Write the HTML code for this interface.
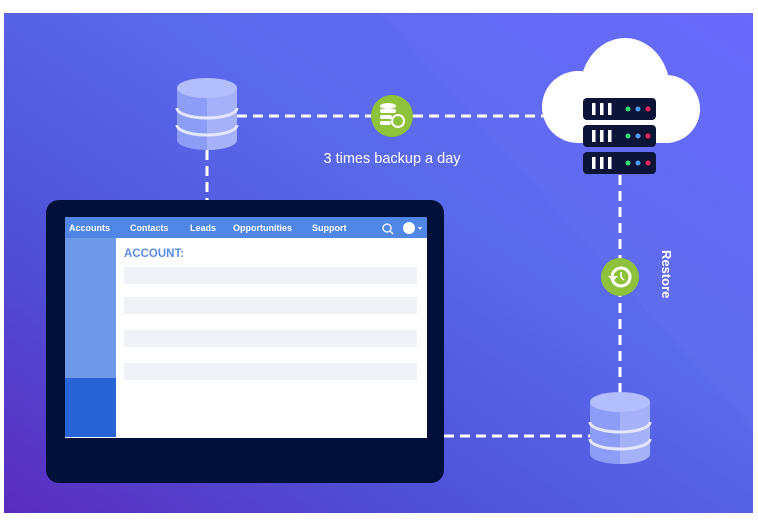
<!DOCTYPE html>
<html><head><meta charset="utf-8"><style>
html,body{margin:0;padding:0;background:#fff;width:758px;height:523px;overflow:hidden}
svg{display:block}
text{font-family:"Liberation Sans",sans-serif}
</style></head><body>
<svg width="758" height="523" viewBox="0 0 758 523" xmlns="http://www.w3.org/2000/svg">
<defs>
<linearGradient id="bg" x1="0" y1="1" x2="1" y2="0">
<stop offset="0" stop-color="#5a2cc0"/>
<stop offset="0.3" stop-color="#4f52d8"/>
<stop offset="0.6" stop-color="#5a6aec"/>
<stop offset="1" stop-color="#6667fc"/>
</linearGradient>
<g id="db">
<path d="M0 10 v52 a30 10 0 0 0 60 0 v-52 z" fill="#8d9cf6"/>
<path d="M30 20 v52 a30 10 0 0 0 30 -10 v-52 z" fill="#a5b2fa"/>
<ellipse cx="30" cy="10" rx="30" ry="10" fill="#b3beff"/>
<path d="M0 30 a30 10 0 0 0 60 0" fill="none" stroke="#e3e8ff" stroke-width="3"/>
<path d="M0 47 a30 10 0 0 0 60 0" fill="none" stroke="#e3e8ff" stroke-width="3"/>
</g>
<g id="srv">
<rect x="0" y="0" width="73" height="22" rx="4" fill="#0c1538"/>
<rect x="9" y="5" width="3.5" height="12" fill="#fff"/>
<rect x="17" y="5" width="3.5" height="12" fill="#fff"/>
<rect x="25" y="5" width="3.5" height="12" fill="#fff"/>
<circle cx="45" cy="11" r="2.5" fill="#2ee07a"/>
<circle cx="55" cy="11" r="2.5" fill="#4c9bf5"/>
<circle cx="65" cy="11" r="2.5" fill="#f0245a"/>
</g>
</defs>
<rect x="4" y="13" width="749" height="500" fill="url(#bg)"/>
<polygon points="380,13 753,13 753,430" fill="#ffffff" opacity="0.02"/>
<g stroke="#fff" stroke-width="3" stroke-dasharray="10,6" fill="none">
<line x1="237" y1="116" x2="545" y2="116"/>
<line x1="207" y1="150" x2="207" y2="200"/>
<line x1="620" y1="175" x2="620" y2="395"/>
<line x1="444" y1="436" x2="590" y2="436"/>
</g>
<use href="#db" x="177" y="78"/>
<use href="#db" x="590" y="392"/>
<g fill="#fff">
<ellipse cx="625" cy="90" rx="45" ry="52"/>
<circle cx="578" cy="107" r="36"/>
<circle cx="666" cy="109" r="34"/>
<rect x="578" y="100" width="88" height="43"/>
</g>
<use href="#srv" x="583" y="98"/>
<use href="#srv" x="583" y="125"/>
<use href="#srv" x="583" y="152"/>
<circle cx="392" cy="116" r="21" fill="#8fc23b"/>
<g fill="#fff"><ellipse cx="388" cy="106" rx="8" ry="3"/><rect x="380" y="109" width="16" height="4" rx="2"/><rect x="380" y="115" width="12" height="4" rx="2"/><rect x="380" y="121" width="11" height="4" rx="2"/></g>
<circle cx="398" cy="121" r="6" fill="none" stroke="#fff" stroke-width="2"/>
<circle cx="620" cy="277" r="19" fill="#8fc23b"/>
<circle cx="621" cy="277" r="9" fill="none" stroke="#fff" stroke-width="3"/>
<path d="M608 276 l5 5 l5 -5 z" fill="#fff"/>
<path d="M621 272 v5 l3 3" stroke="#fff" stroke-width="1.5" fill="none"/>
<text x="392" y="163" fill="#fff" font-size="14.5" text-anchor="middle">3 times backup a day</text>
<text transform="translate(662,250) rotate(90)" fill="#fff" font-size="13" font-weight="bold">Restore</text>
<rect x="46" y="200" width="398" height="283" rx="13" fill="#011038"/>
<rect x="65" y="217" width="362" height="221" fill="#fff"/>
<rect x="65" y="217" width="362" height="21" fill="#5086e6"/>
<rect x="65" y="238" width="51" height="140" fill="#6e98e8"/>
<rect x="65" y="378" width="51" height="59" fill="#2963d8"/>
<g fill="#fff" font-size="9" font-weight="bold">
<text x="69" y="231">Accounts</text>
<text x="130" y="231">Contacts</text>
<text x="190" y="231">Leads</text>
<text x="233" y="231">Opportunities</text>
<text x="312" y="231">Support</text>
</g>
<circle cx="387" cy="228" r="4" fill="none" stroke="#fff" stroke-width="1.3"/>
<line x1="390" y1="231" x2="393" y2="234" stroke="#fff" stroke-width="1.3"/>
<circle cx="409" cy="228" r="6" fill="#fff"/>
<path d="M418 227 l4 0 l-2 3 z" fill="#fff"/>
<text x="124" y="257" fill="#5b8de8" font-size="11.5" font-weight="bold">ACCOUNT:</text>
<g fill="#eff2f7">
<rect x="124" y="267" width="293" height="17"/>
<rect x="124" y="297" width="293" height="17"/>
<rect x="124" y="330" width="293" height="17"/>
<rect x="124" y="363" width="293" height="17"/>
</g>
</svg>
</body></html>
